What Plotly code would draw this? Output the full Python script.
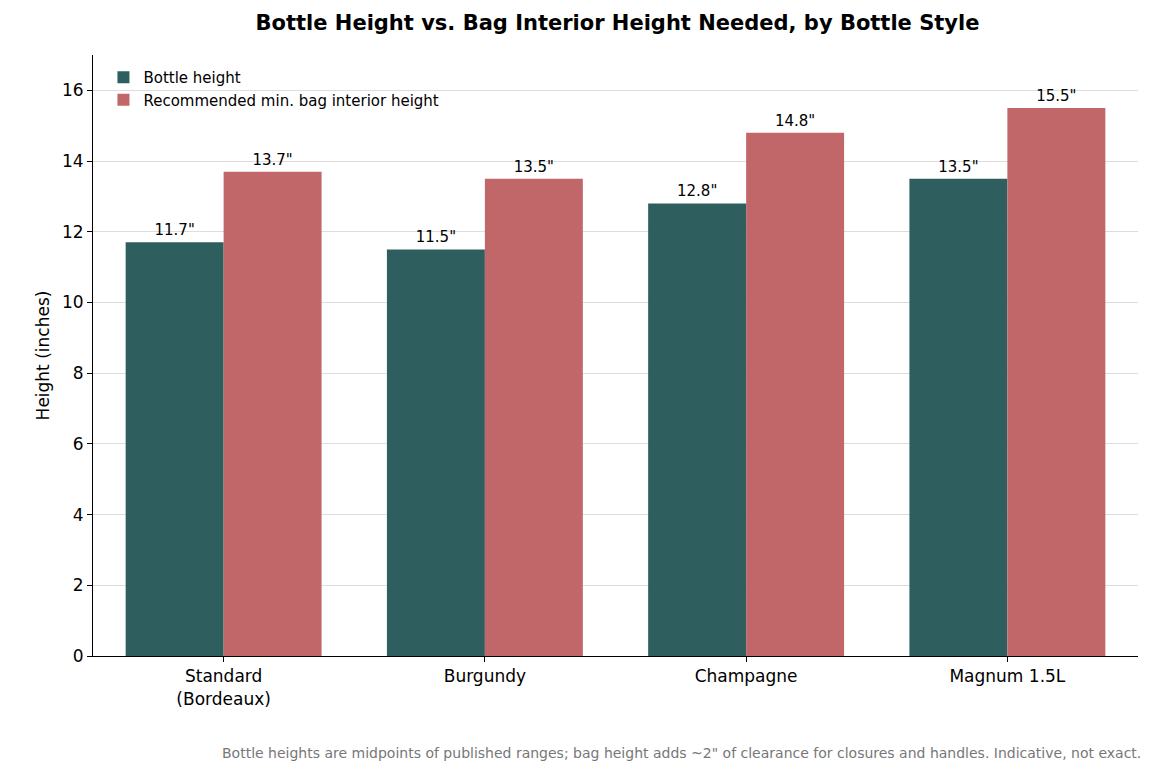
import plotly.graph_objects as go

categories = ["Standard<br>(Bordeaux)", "Burgundy", "Champagne", "Magnum 1.5L"]
bottle_height = [11.7, 11.5, 12.8, 13.5]
bag_height = [13.7, 13.5, 14.8, 15.5]

font = "DejaVu Sans"
fig = go.Figure()
fig.add_bar(x=categories, y=bottle_height, name="Bottle height", marker_color="#2e5f5e",
            text=[f'{v}"' for v in bottle_height], textposition="outside", constraintext="none",
            textfont=dict(size=15, color="black"), cliponaxis=False)
fig.add_bar(x=categories, y=bag_height, name="Recommended min. bag interior height", marker_color="#c1676a",
            text=[f'{v}"' for v in bag_height], textposition="outside", constraintext="none",
            textfont=dict(size=15, color="black"), cliponaxis=False)
fig.update_layout(
    width=1150, height=768, template="none", font=dict(family=font, size=15, color="black"),
    paper_bgcolor="white", plot_bgcolor="white",
    margin=dict(l=85, r=20, t=47, b=120),
    title=dict(text="<b>Bottle Height vs. Bag Interior Height Needed, by Bottle Style</b>",
               x=0.53, xanchor="center", y=0.99, yanchor="top", font=dict(size=21)),
    barmode="group", bargap=0.25, bargroupgap=0,
    legend=dict(x=0.01, y=0.99, xanchor="left", yanchor="top", bgcolor="rgba(255,255,255,0)",
                font=dict(size=15)),
    xaxis=dict(showline=True, linecolor="black", ticks="outside", tickcolor="black",
               tickfont=dict(size=17), showgrid=False),
    yaxis=dict(range=[0, 17], dtick=2, showline=True, linecolor="black", ticks="outside",
               tickcolor="black", showgrid=True, gridcolor="#dddddd", tickfont=dict(size=17),
               title=dict(text="Height (inches)", font=dict(size=17)), zeroline=False),
    showlegend=True,
)
fig.add_annotation(text='Bottle heights are midpoints of published ranges; bag height adds ~2" of clearance for closures and handles. Indicative, not exact.',
                   xref="paper", yref="paper", x=1.005, y=-0.145, xanchor="right", yanchor="top",
                   showarrow=False, font=dict(size=14, color="#777777"))
fig.write_html("out.html")
